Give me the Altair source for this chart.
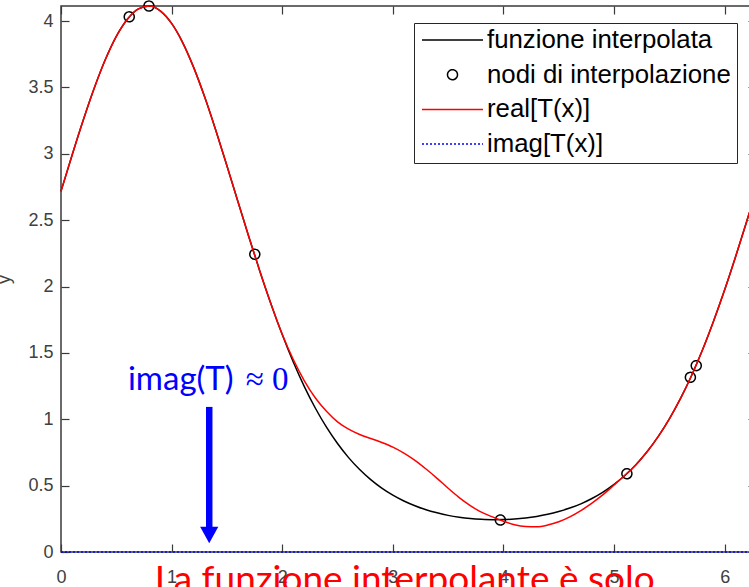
import altair as alt
import pandas as pd

# ---------------- data ----------------
x_grid = [0.0, 0.1, 0.2, 0.3, 0.4, 0.5, 0.6, 0.7, 0.8, 0.9,
          1.0, 1.1, 1.2, 1.3, 1.4, 1.5, 1.6, 1.7, 1.8, 1.9,
          2.0, 2.1, 2.2, 2.3, 2.4, 2.5, 2.6, 2.7, 2.8, 2.9,
          3.0, 3.1, 3.2, 3.3, 3.4, 3.5, 3.6, 3.7, 3.8, 3.9,
          4.0, 4.1, 4.2, 4.3, 4.4, 4.5, 4.6, 4.7, 4.8, 4.9,
          5.0, 5.1, 5.2, 5.3, 5.4, 5.5, 5.6, 5.7, 5.8, 5.9,
          6.0, 6.1, 6.2, 6.2832]

f_vals = [2.718, 2.989, 3.250, 3.493, 3.708, 3.885, 4.014, 4.092, 4.113, 4.075,
          3.982, 3.838, 3.649, 3.425, 3.175, 2.910, 2.639, 2.370, 2.110, 1.865,
          1.638, 1.431, 1.246, 1.083, 0.940, 0.817, 0.711, 0.621, 0.545, 0.481,
          0.428, 0.384, 0.348, 0.318, 0.295, 0.276, 0.262, 0.252, 0.246, 0.243,
          0.244, 0.248, 0.256, 0.268, 0.284, 0.305, 0.331, 0.363, 0.403, 0.451,
          0.509, 0.578, 0.660, 0.757, 0.871, 1.003, 1.155, 1.328, 1.523, 1.740,
          1.975, 2.228, 2.493, 2.718]

t_real = [2.718, 2.989, 3.250, 3.493, 3.708, 3.885, 4.014, 4.092, 4.113, 4.075,
          3.982, 3.838, 3.649, 3.425, 3.175, 2.910, 2.639, 2.370, 2.110, 1.865,
          1.640, 1.450, 1.290, 1.160, 1.060, 0.980, 0.925, 0.885, 0.855, 0.825,
          0.790, 0.745, 0.690, 0.625, 0.555, 0.480, 0.410, 0.350, 0.300, 0.265,
          0.232, 0.205, 0.192, 0.190, 0.203, 0.228, 0.265, 0.312, 0.368, 0.432,
          0.505, 0.580, 0.660, 0.757, 0.871, 1.003, 1.155, 1.328, 1.523, 1.740,
          1.975, 2.228, 2.493, 2.718]

t_imag = [0.0] * len(x_grid)

node_x = [0.617, 0.795, 1.752, 3.972, 5.116, 5.690, 5.743]
node_y = [4.032, 4.113, 2.243, 0.241, 0.590, 1.316, 1.404]

series_names = ["funzione interpolata", "nodi di interpolazione", "real[T(x)]", "imag[T(x)]"]
series_colors = ["#000000", "#000000", "#ff0000", "#0000ff"]
series_dash = [[1, 0], [1, 0], [1, 0], [2, 2]]
legend_sizes = [3721, 100, 3721, 3721]
legend_shapes = ["stroke", "circle", "stroke", "stroke"]

x_ticks = [0, 1, 2, 3, 4, 5, 6]
y_ticks = [0, 0.5, 1, 1.5, 2, 2.5, 3, 3.5, 4]

annot_x = [1.335]
annot_y = [1.221]
annot_left = ["imag(T)"]
annot_right = ["\u2248 0"]

arrow_x = [1.34]
arrow_top = [1.093]
arrow_end = [0.17]
arrow_head = [0.128]

caption_x = [3.107]
caption_y = [-0.298]
caption_text = ["La funzione interpolante \u00e8 solo"]

# ---------------- tables ----------------
df_f = pd.DataFrame({"x": x_grid, "y": f_vals})
df_real = pd.DataFrame({"x": x_grid, "y": t_real})
df_imag = pd.DataFrame({"x": x_grid, "y": t_imag})
df_nodes = pd.DataFrame({"x": node_x, "y": node_y, "s": [series_names[1]] * len(node_x)})
df_annot = pd.DataFrame({"x": annot_x, "y": annot_y, "l": annot_left, "r": annot_right})
df_arrow = pd.DataFrame({"x": arrow_x, "y": arrow_top, "y2": arrow_end, "h": arrow_head})
df_cap = pd.DataFrame({"x": caption_x, "y": caption_y, "t": caption_text})

AX = "#3a3a3a"
xs = alt.Scale(domain=[0, 6.2832], nice=False, zero=False)
ys = alt.Scale(domain=[0, 4.1133], nice=False, zero=False)

def X(axis=None, field="x"):
    if axis is None:
        return alt.X(f"{field}:Q", scale=xs, axis=None)
    return alt.X(f"{field}:Q", scale=xs, axis=axis)

def Y(axis=None, field="y"):
    if axis is None:
        return alt.Y(f"{field}:Q", scale=ys, axis=None)
    return alt.Y(f"{field}:Q", scale=ys, axis=axis)

common_axis = dict(domain=False, grid=False, offset=-8, tickSize=8, tickColor=AX,
                   tickWidth=1.2, labelFont="Liberation Sans", labelFontSize=18,
                   labelColor="#404040", labelFlush=False, labelOverlap=False)

bottom_axis = alt.Axis(orient="bottom", values=x_ticks, format="d", labelPadding=16,
                       title=None, **common_axis)
left_axis = alt.Axis(orient="left", values=y_ticks, format="~g", labelPadding=8,
                     title="y", titleFont="Liberation Sans", titleFontSize=18,
                     titleFontWeight="normal", titleColor="#404040",
                     titleX=-60, titleY=273, titleAngle=270, titleBaseline="alphabetic",
                     **common_axis)
top_axis = alt.Axis(orient="top", values=x_ticks, labels=False, title=None,
                    domain=False, grid=False, offset=-8, tickSize=8, tickColor=AX, tickWidth=1.2)
right_axis = alt.Axis(orient="right", values=y_ticks, labels=False, title=None,
                      domain=False, grid=False, offset=-8, tickSize=8, tickColor=AX, tickWidth=1.2)

legend = alt.Legend(orient="none", legendX=353, legendY=17, title=None,
                    labelFont="Liberation Sans", labelFontSize=25.8, labelColor="#000000",
                    labelExpr="datum.label + '\u00a0'",
                    strokeColor="#262626", fillColor="white", padding=6,
                    clipHeight=22, rowPadding=8.7, symbolStrokeWidth=1.5,
                    labelOffset=3, symbolOffset=1, labelLimit=500)

imag_layer = alt.Chart(df_imag).mark_line(color="#0000ff", strokeDash=[2, 2], strokeWidth=1.3).encode(
    x=X(bottom_axis), y=Y(left_axis))

black_layer = alt.Chart(df_f).mark_line(color="#000000", strokeWidth=1.5, interpolate="monotone").encode(
    x=X(top_axis), y=Y(right_axis))

nodes_layer = alt.Chart(df_nodes).mark_point(filled=False, strokeWidth=1.5, opacity=1).encode(
    x=X(), y=Y(),
    color=alt.Color("s:N", scale=alt.Scale(type="ordinal", domain=series_names, range=series_colors), legend=legend),
    shape=alt.Shape("s:N", scale=alt.Scale(type="ordinal", domain=series_names, range=legend_shapes), legend=legend),
    size=alt.Size("s:N", scale=alt.Scale(type="ordinal", domain=series_names, range=legend_sizes), legend=legend),
    strokeDash=alt.StrokeDash("s:N", scale=alt.Scale(type="ordinal", domain=series_names, range=series_dash), legend=legend),
)

red_layer = alt.Chart(df_real).mark_line(color="#ff0000", strokeWidth=1.5, interpolate="monotone").encode(
    x=X(), y=Y())

arrow_rule = alt.Chart(df_arrow).mark_rule(color="#0000ff", strokeWidth=6.5).encode(
    x=X(), y=Y(), y2="y2:Q")

arrow_tip = alt.Chart(df_arrow).mark_point(shape="M-1,-0.9L1,-0.9L0,0.9Z", filled=True,
                                           color="#0000ff", size=330, opacity=1).encode(
    x=X(), y=Y(field="h"))

annot_l = alt.Chart(df_annot).mark_text(font="Lato", fontSize=33, color="#0000ff",
                                        align="right", baseline="alphabetic", dx=25).encode(
    x=X(), y=Y(), text="l:N")
annot_r = alt.Chart(df_annot).mark_text(font="Liberation Serif", fontSize=33, color="#0000ff",
                                        align="left", baseline="alphabetic", dx=37).encode(
    x=X(), y=Y(), text="r:N")

caption = alt.Chart(df_cap).mark_text(font="Lato", fontSize=37, color="#ff0000",
                                      align="center", baseline="alphabetic").encode(
    x=X(), y=Y(), text="t:N")

chart = alt.layer(
    imag_layer, black_layer, nodes_layer, red_layer,
    arrow_rule, arrow_tip, annot_l, annot_r, caption
).resolve_axis(x="independent", y="independent").resolve_scale(
    x="shared", y="shared"
).properties(
    width=695, height=546,
    padding={"left": 61, "top": 6, "right": -7, "bottom": 35},
    autosize=alt.AutoSizeParams(type="none"),
    background="white",
).configure_view(stroke=AX, strokeWidth=1.5)

chart.save("out.html", embed_options={"renderer": "svg", "actions": False})
